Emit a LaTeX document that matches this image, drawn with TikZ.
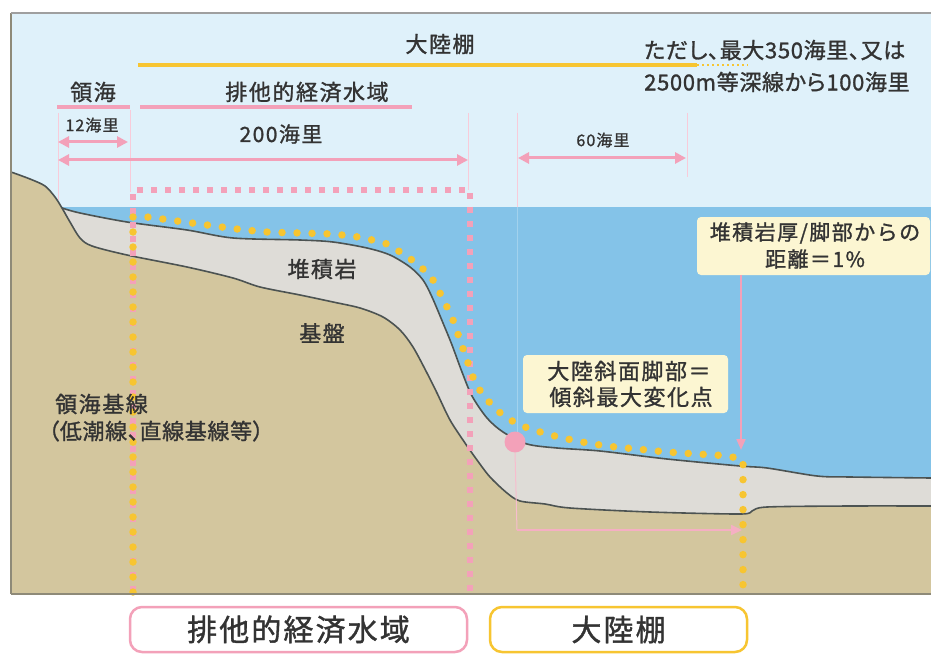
\documentclass[tikz,border=0pt]{standalone}
\usepackage{fontspec}
\newfontfamily\jp[LetterSpace=7,FakeBold=1.2]{Noto Sans CJK JP}
\newfontfamily\jpp[LetterSpace=3,FakeBold=1.2,RawFeature=+palt]{Noto Sans CJK JP}
\usetikzlibrary{arrows.meta}

\definecolor{sky}{HTML}{DFF1FA}
\definecolor{sea}{HTML}{84C3E8}
\definecolor{sed}{HTML}{DEDCD7}
\definecolor{rock}{HTML}{D3C69E}
\definecolor{edge}{HTML}{4C5352}
\definecolor{pnk}{HTML}{F3A1B9}
\definecolor{ylw}{HTML}{F7C531}
\definecolor{note}{HTML}{FCF6D2}
\definecolor{txt}{HTML}{333333}
\definecolor{frm}{HTML}{8E8A78}

\newcommand{\fs}[1]{\fontsize{#1}{#1}\selectfont}

\tikzset{
  lbl/.style={font=\jp\fs{22}, text=txt, inner sep=0pt},
  pinkdots/.style={draw=pnk, line width=6pt, dash pattern=on 6pt off 8pt},
  ydots/.style={draw=ylw, line width=7.5pt, line cap=round, dash pattern=on 0pt off 15pt},
  dimarrow/.style={draw=pnk, line width=3pt,
    {Triangle[length=11pt,width=11pt]}-{Triangle[length=11pt,width=11pt]}},
  onearrow/.style={draw=pnk!85, line width=2pt, -{Triangle[length=11pt,width=10pt]}},
  guide/.style={draw=pnk!55, line width=1pt},
  band/.style={line width=4pt},
  callout/.style={fill=note, rounded corners=4pt, inner sep=0pt},
  legendbox/.style={draw, fill=white, line width=2.5pt, rounded corners=12pt,
    minimum height=45pt, inner sep=0pt, font=\jp\fs{30}, text=txt},
  contour/.style={draw=edge, line width=1.6pt}
}

\begin{document}
\begin{tikzpicture}[x=1pt,y=-1pt]
\useasboundingbox (0,0) rectangle (931,655);
\fill[white] (0,0) rectangle (931,655);

% sky and sea
\fill[sky] (11,13) rectangle (931,207);
\fill[sea] (11,207) rectangle (931,594);

% guide lines above the sea
\coordinate (gA0) at (58,113);   \coordinate (gA1) at (58,200);
\coordinate (gB0) at (130,110);  \coordinate (gB1) at (130,192);
\coordinate (gC0) at (468,113);  \coordinate (gC1) at (468,190);
\coordinate (gD0) at (517,113);  \coordinate (gD1) at (517,432);
\coordinate (gE0) at (687,113);  \coordinate (gE1) at (687,177);
\draw[guide] (gA0) -- (gA1);
\draw[guide] (gB0) -- (gB1);
\draw[guide] (gC0) -- (gC1);
\draw[guide] (gE0) -- (gE1);
\draw[guide] (gD0) -- (517,207);
\draw[draw=white, opacity=0.25, line width=1pt] (517,207) -- (gD1);

% sediment layer
\fill[sed] plot[smooth] coordinates {(62,208) (80,213) (127,222) (187,230) (233,238) (300,240) (333,242) (367,248) (390,255) (410,267) (423,280) (432,297) (443,323) (452,345) (462,372) (472,396) (487,418) (503,432) (527,444) (557,448) (600,451) (667,459) (740,466) (767,468) (817,476) (850,477) (931,478)}
  -- (931,594) -- (11,594) -- (11,172) -- cycle;

% basement
\fill[rock] plot[smooth] coordinates {(11,172) (30,179) (45,186) (55,197) (62,208) (70,222) (80,238) (92,246) (127,255) (187,267) (233,278) (260,287) (300,295) (333,302) (360,308) (383,317) (400,330) (413,347) (427,373) (437,393) (450,420) (465,443) (477,460) (490,477) (507,493) (520,501) (545,504) (570,508) (650,512) (740,514) (752,511) (767,507) (850,506) (931,506)}
  -- (931,594) -- (11,594) -- cycle;

% outlines: sea floor and top of basement
\draw[contour] plot[smooth] coordinates {(62,208) (80,213) (127,222) (187,230) (233,238) (300,240) (333,242) (367,248) (390,255) (410,267) (423,280) (432,297) (443,323) (452,345) (462,372) (472,396) (487,418) (503,432) (527,444) (557,448) (600,451) (667,459) (740,466) (767,468) (817,476) (850,477) (931,478)};
\draw[contour] plot[smooth] coordinates {(11,172) (30,179) (45,186) (55,197) (62,208) (70,222) (80,238) (92,246) (127,255) (187,267) (233,278) (260,287) (300,295) (333,302) (360,308) (383,317) (400,330) (413,347) (427,373) (437,393) (450,420) (465,443) (477,460) (490,477) (507,493) (520,501) (545,504) (570,508) (650,512) (740,514) (752,511) (767,507) (850,506) (931,506)};

% exclusive economic zone outline
\coordinate (ezBL) at (133,592);
\coordinate (ezTL) at (133,190);
\coordinate (ezTR) at (470,190);
\coordinate (ezBR) at (470,592);
\draw[pinkdots] (ezBL) -- (ezTL) -- (ezTR) -- (ezBR);

% continental shelf outline
\coordinate (csBL) at (133,592);
\coordinate (csBR) at (743,592);
\draw[ydots] (csBL) -- (133,217) plot[smooth] coordinates {(133,217) (147,217) (177,221) (207,225) (237,229) (267,232) (300,233) (330,234) (358,237) (387,244) (400,252) (412,260) (423,269) (433,280) (440,293) (447,307) (453,320) (460,340) (467,360) (473,377) (481,392) (491,404) (503,415) (520,425) (547,434) (577,441) (607,446) (637,449) (667,452) (697,454) (727,456) (743,460)} -- (csBR);

% foot of the slope and distance to it
\node[circle, fill=pnk, minimum size=21pt, inner sep=0pt] (foot) at (515,442) {};
\coordinate (ftdown) at (517,530);
\coordinate (ftend) at (742,530);
\draw[draw=pnk!70, line width=1pt] (foot.south) -- (ftdown);
\draw[onearrow] (ftdown) -- (ftend);

% top bands
\coordinate (shA) at (138,65);  \coordinate (shB) at (697,65);  \coordinate (shC) at (748,65);
\draw[ylw, band] (shA) -- (shB);
\draw[ylw, line width=1.5pt, dash pattern=on 2pt off 3pt] (shB) -- (shC);
\coordinate (tsA) at (57,107);  \coordinate (tsB) at (130,107);
\coordinate (ezA) at (140,107); \coordinate (ezB) at (412,107);
\draw[pnk, band] (tsA) -- (tsB);
\draw[pnk, band] (ezA) -- (ezB);

% dimension arrows
\coordinate (d12a) at (58,142);  \coordinate (d12b) at (128,142);
\coordinate (d200a) at (58,160); \coordinate (d200b) at (468,160);
\coordinate (d60a) at (518,158); \coordinate (d60b) at (686,158);
\draw[dimarrow] (d12a) -- (d12b);
\draw[dimarrow] (d200a) -- (d200b);
\draw[dimarrow] (d60a) -- (d60b);

% labels
\node[lbl] (tShelf) at (440,44) {大陸棚};
\node[lbl, font=\jpp\fs{22}, anchor=west, align=left] (tNote) at (644,66)
  {ただし、最大350海里、又は\\[10pt]2500m等深線から100海里};
\node[lbl] (tTS) at (93,92) {領海};
\node[lbl] (tEEZ) at (307,92) {排他的経済水域};
\node[lbl, font=\jp\fs{16}] (t12) at (92,125) {12海里};
\node[lbl, font=\jp\fs{21}] (t200) at (281,134) {200海里};
\node[lbl, font=\jp\fs{16}] (t60) at (603,140) {60海里};
\node[lbl] (tSed) at (322,269) {堆積岩};
\node[lbl] (tBase) at (322,333) {基盤};
\node[lbl, anchor=west] (tBL1) at (55,404) {領海基線};
\node[lbl, font=\jpp\fs{22}, anchor=west] (tBL2) at (48,431) {（低潮線、直線基線等）};

% callouts
\node[callout, minimum width=205pt, minimum height=58pt] (cFoot) at (625.5,384) {};
\node[lbl] at (629,371) {大陸斜面脚部＝};
\node[lbl] at (631,397) {傾斜最大変化点};
\node[callout, minimum width=233pt, minimum height=58pt] (cThick) at (813.5,246) {};
\node[lbl, font=\jp\fs{21}] at (815,233) {堆積岩厚/脚部からの};
\node[lbl, font=\jp\fs{21}] at (815,259) {距離＝1\%};
\coordinate (thTip) at (741,450);
\draw[draw=pnk, line width=2pt, -{Triangle[length=11pt,width=9pt]}] (741,275) -- (thTip);

% frame
\draw[frm, line width=2pt] (11,13) -- (11,594);
\draw[gray!75, line width=2pt] (11,13) -- (931,13);
\draw[frm, line width=2.5pt] (11,594) -- (931,594);

% legend
\node[legendbox, draw=pnk, minimum width=337pt] (lgEEZ) at (298.5,629.5) {排他的経済水域};
\node[legendbox, draw=ylw, minimum width=257pt] (lgShelf) at (618.5,629.5) {大陸棚};
\end{tikzpicture}
\end{document}
